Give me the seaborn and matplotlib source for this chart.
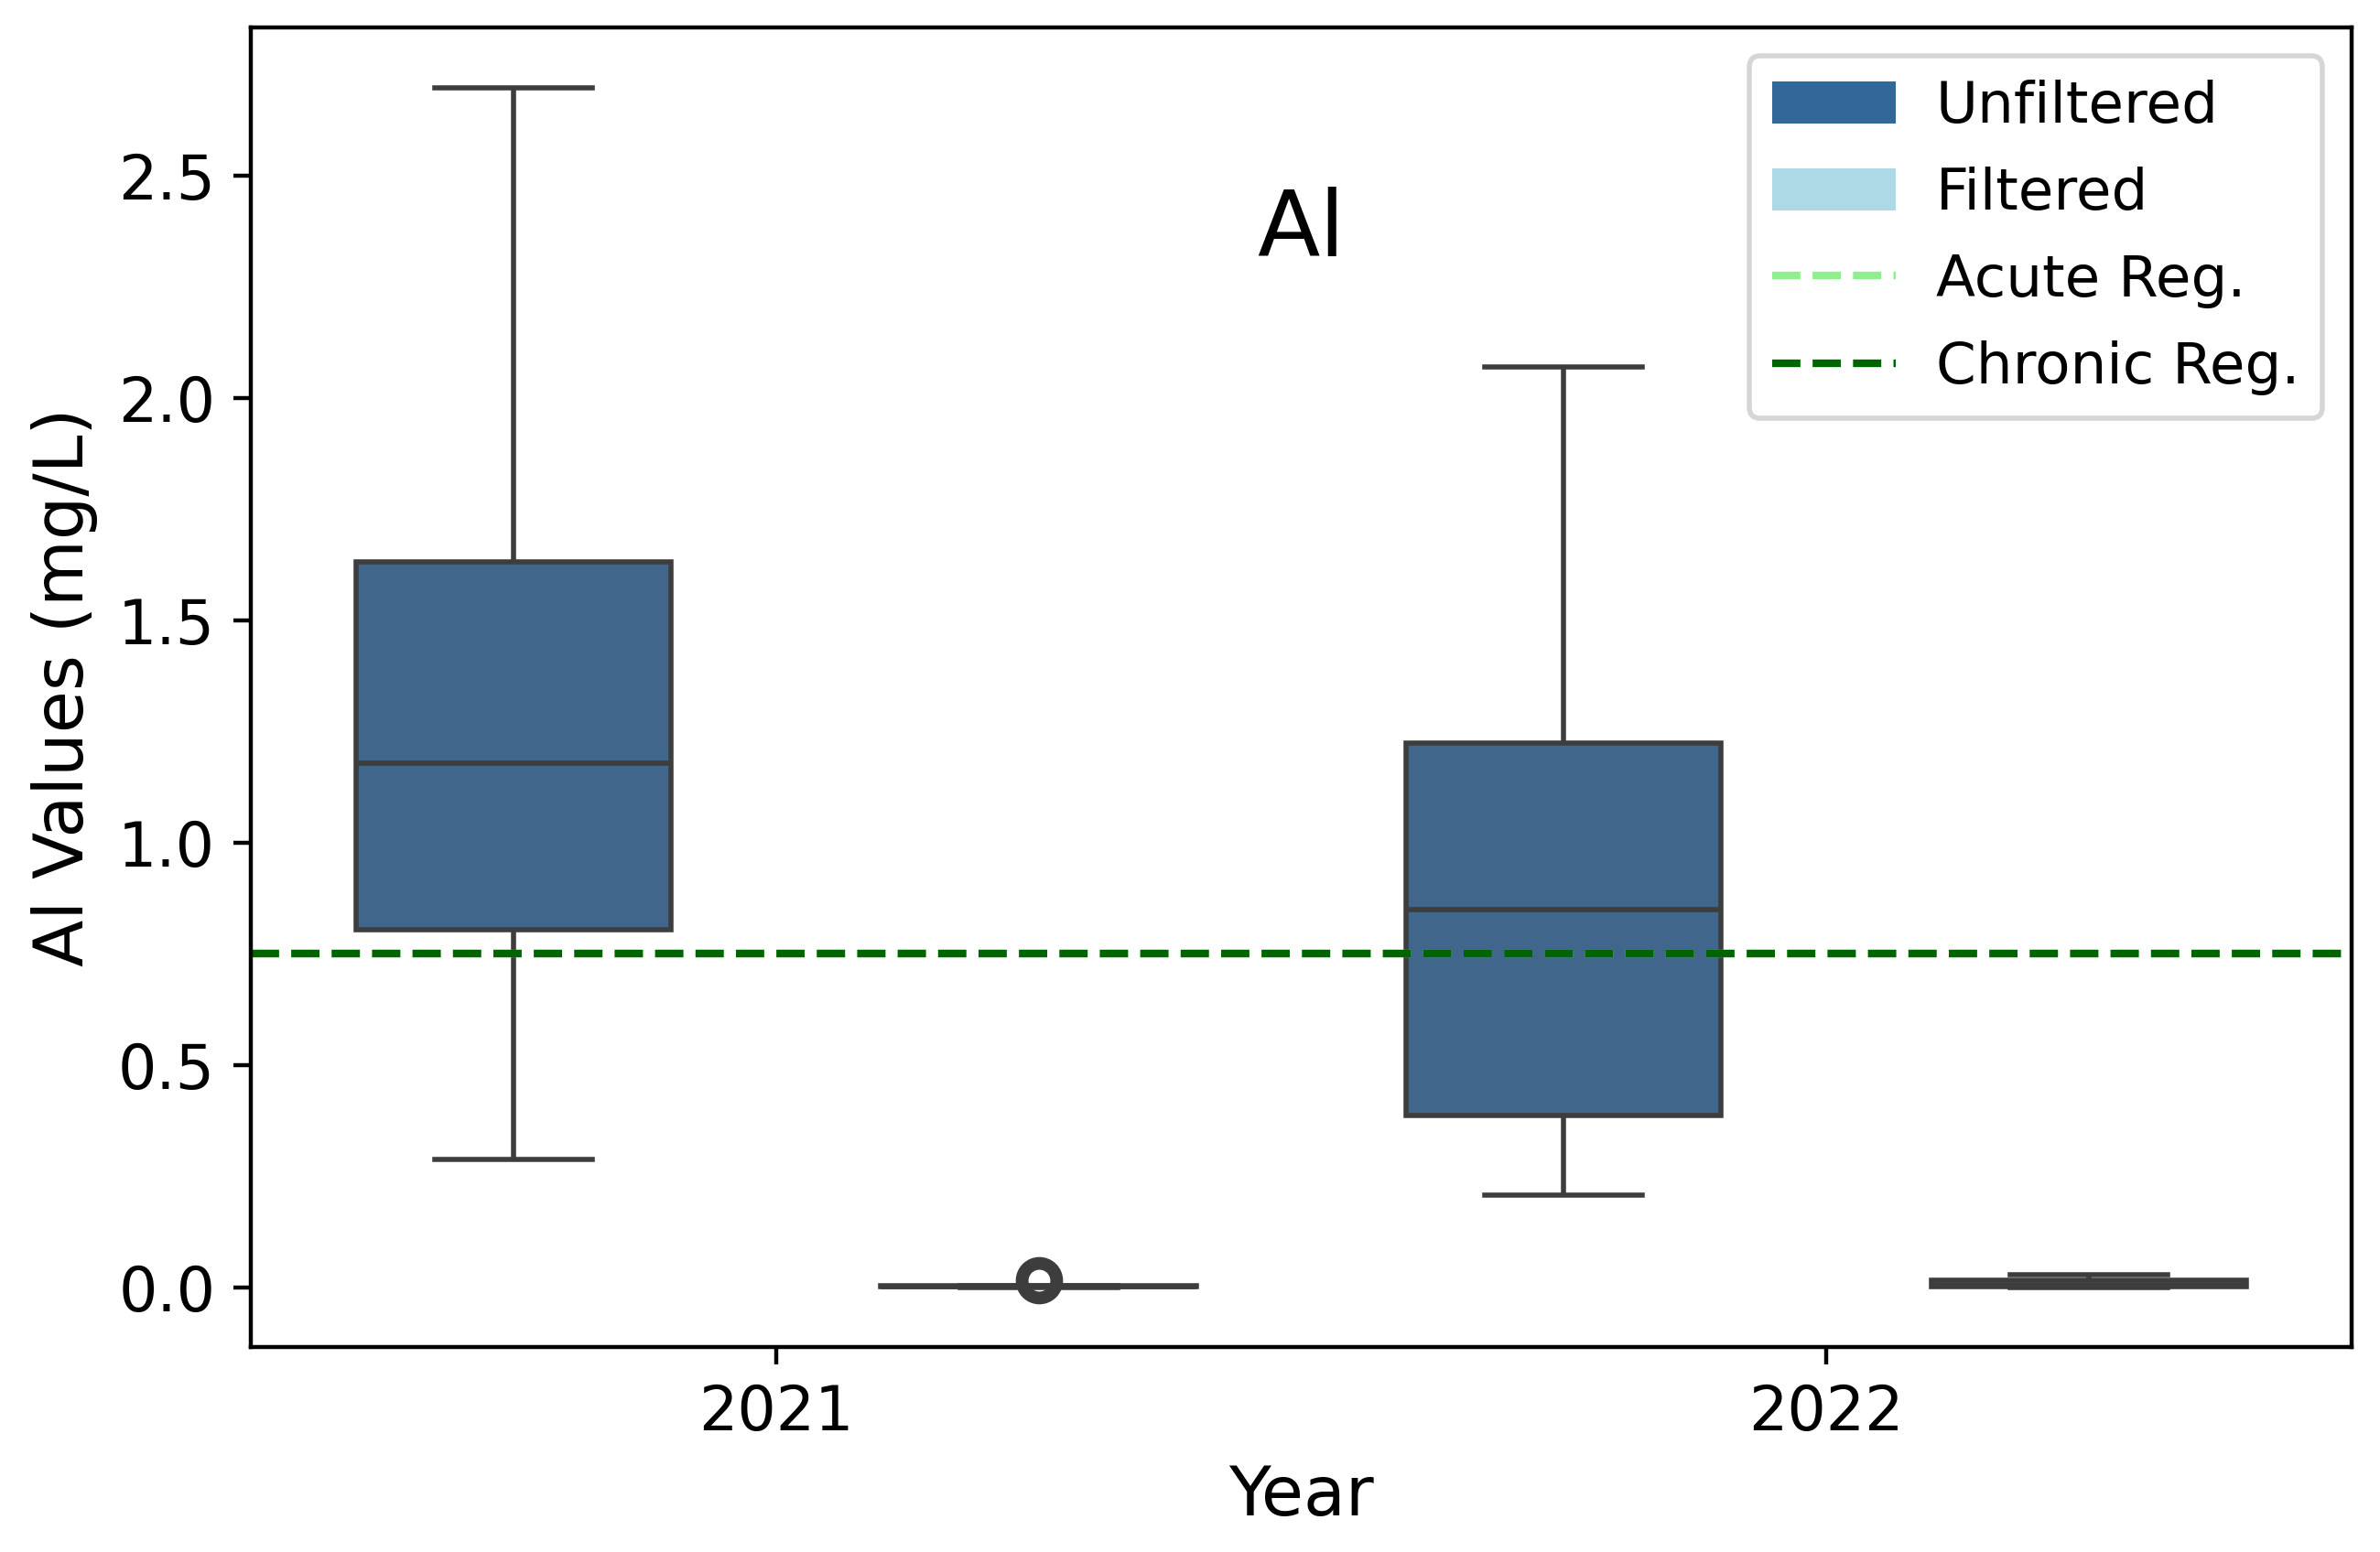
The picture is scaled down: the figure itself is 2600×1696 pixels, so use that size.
import matplotlib
matplotlib.use("Agg")
import matplotlib.pyplot as plt
import seaborn as sns
import pandas as pd
from matplotlib.patches import Patch
from matplotlib.lines import Line2D

# ---- data ----
years = ["2021", "2022"]
types = ["Unfiltered", "Filtered"]
unfiltered_2021 = [0.287, 0.803, 1.178, 1.632, 2.698]
unfiltered_2022 = [0.208, 0.386, 0.850, 1.223, 2.070]
filtered_2021 = [0.000, 0.001, 0.002, 0.003, 0.015]
filtered_2022 = [0.000, 0.001, 0.005, 0.015, 0.027]
acute_reg = 0.75
chronic_reg = 0.75
palette = {"Unfiltered": "#336699", "Filtered": "lightblue"}

rows = []
for yr, vals in zip(years, [unfiltered_2021, unfiltered_2022]):
    rows += [{"Year": yr, "Type": "Unfiltered", "Value": v} for v in vals]
for yr, vals in zip(years, [filtered_2021, filtered_2022]):
    rows += [{"Year": yr, "Type": "Filtered", "Value": v} for v in vals]
df = pd.DataFrame(rows)

fig = plt.figure(figsize=(6.5, 4.24), dpi=400)
ax = fig.add_subplot(111)
fig.subplots_adjust(left=0.1054, right=0.988, top=0.9823, bottom=0.132)

sns.boxplot(data=df, x="Year", y="Value", hue="Type", order=years,
            hue_order=types, palette=palette, width=1.0, gap=0.4,
            legend=False, ax=ax,
            flierprops={"markersize": 6.8, "markeredgewidth": 2.5})

ax.axhline(acute_reg, color="lightgreen", linestyle="--", linewidth=1.5)
ax.axhline(chronic_reg, color="darkgreen", linestyle="--", linewidth=1.5)

ax.text(0.5, 0.846, "Al", transform=ax.transAxes, ha="center", va="center",
        fontsize=18)
ax.set_xlabel("Year", fontsize=13.5)
ax.set_ylabel("Al Values (mg/L)", fontsize=13.5)
ax.tick_params(labelsize=12)

handles = [Patch(facecolor=palette["Unfiltered"], label="Unfiltered"),
           Patch(facecolor=palette["Filtered"], label="Filtered"),
           Line2D([0], [0], color="lightgreen", linestyle="--", lw=1.5, label="Acute Reg."),
           Line2D([0], [0], color="darkgreen", linestyle="--", lw=1.5, label="Chronic Reg.")]
ax.legend(handles=handles, loc="upper right", fontsize=11.3,
          handlelength=2.15, handletextpad=0.7, labelspacing=0.56,
          handleheight=0.75)

fig.savefig("out.png", dpi=400)
